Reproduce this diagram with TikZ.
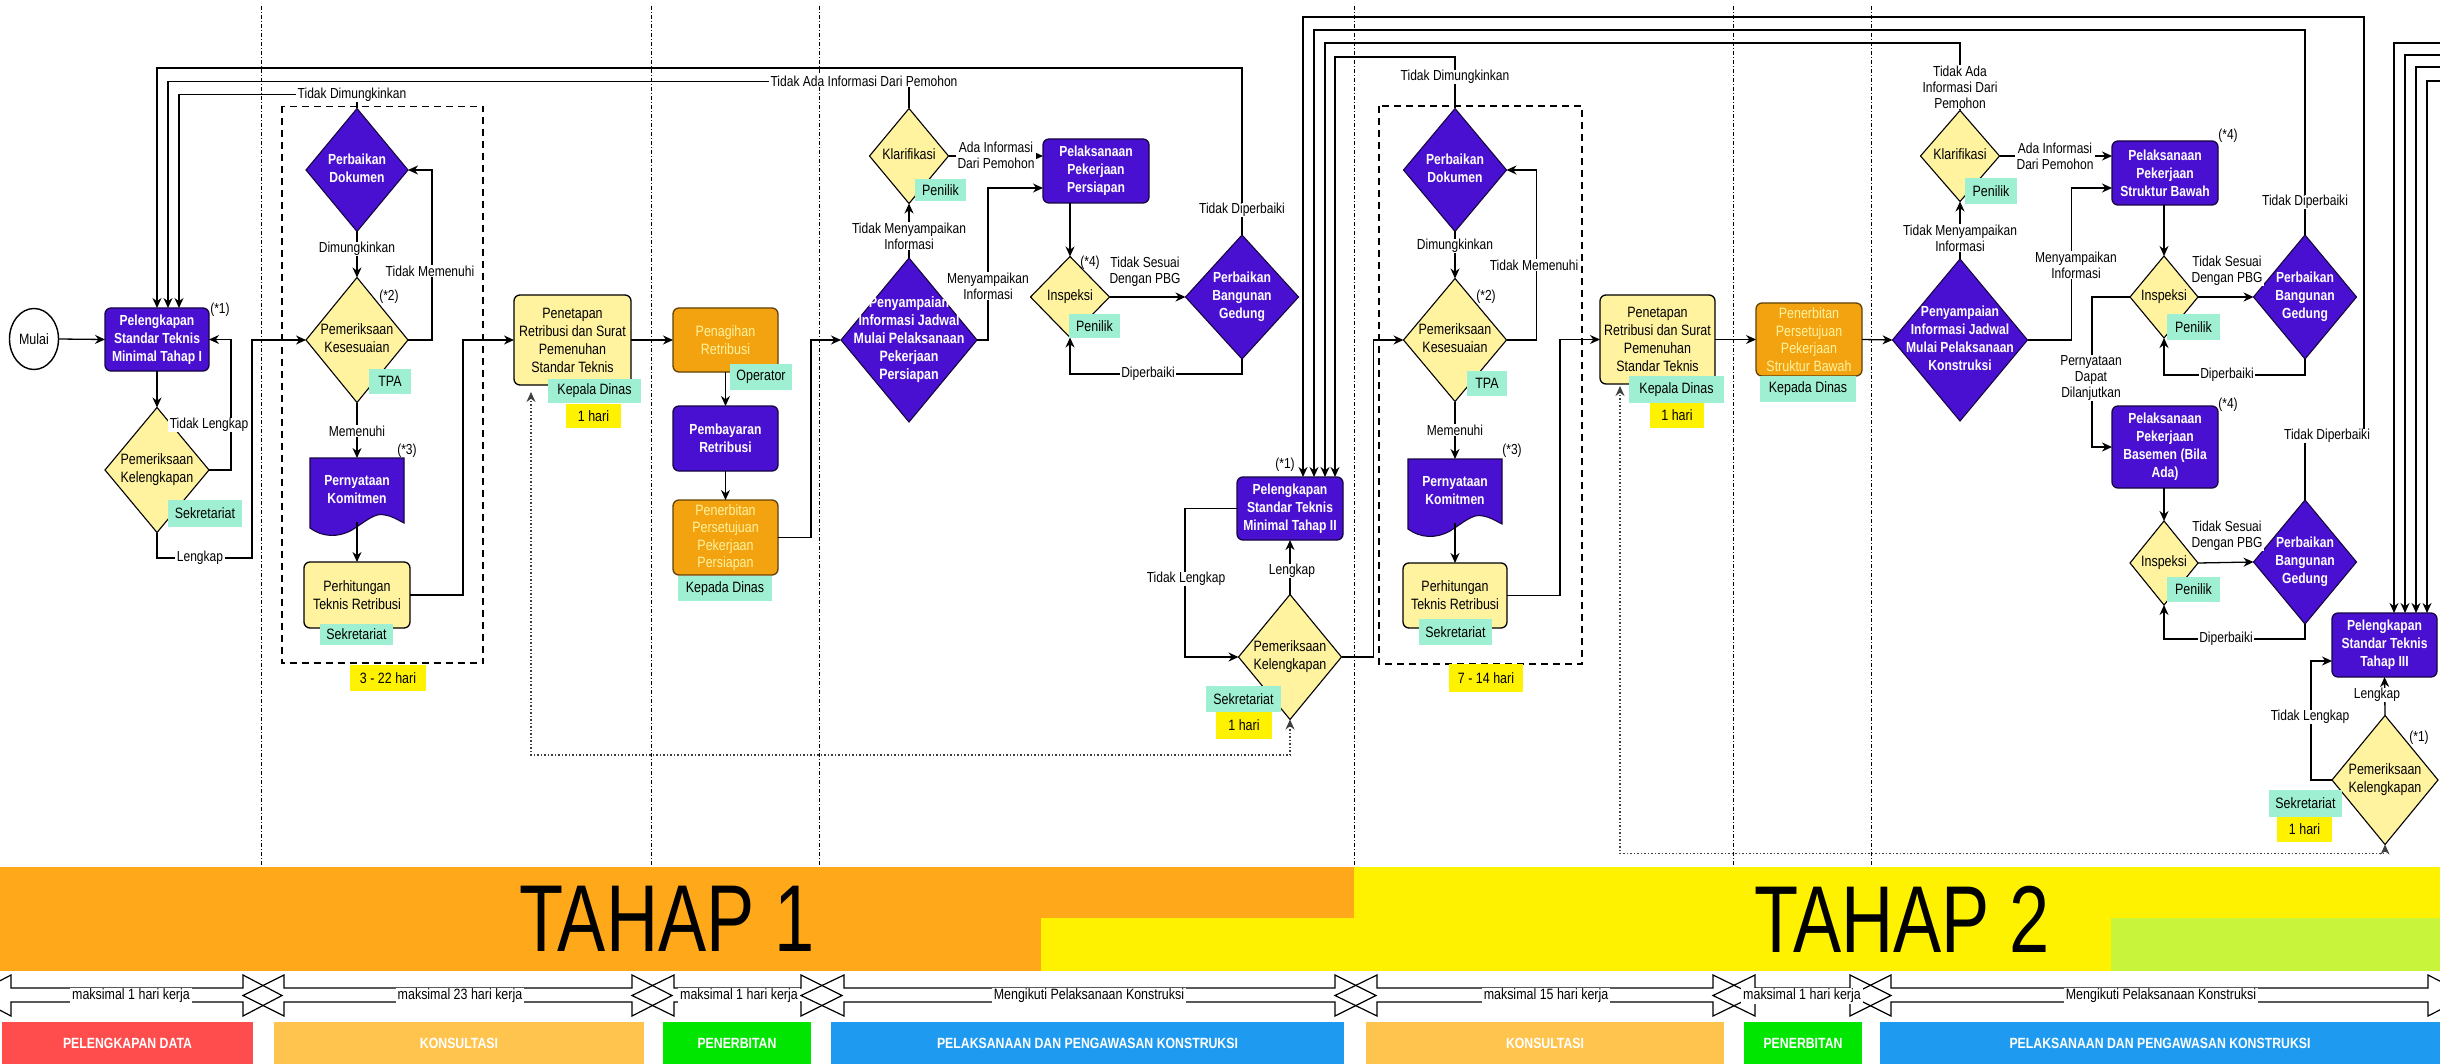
\documentclass[tikz,border=0pt]{standalone}
\usepackage{fontspec}
\setmainfont[FakeStretch=0.83]{Liberation Sans}
\newfontfamily\tahapfont[FakeStretch=0.76]{Liberation Sans}
\usetikzlibrary{shapes.geometric,arrows.meta,calc}
\definecolor{pur}{HTML}{4A10D2}
\definecolor{pale}{HTML}{FFF3A0}
\definecolor{org}{HTML}{F2A30F}
\definecolor{teal2}{HTML}{9FF0D2}
\definecolor{barorg}{HTML}{FFA91A}
\definecolor{limeg}{HTML}{C8F53C}
\definecolor{barred}{HTML}{FF4C4C}
\definecolor{barkon}{HTML}{FFC44D}
\definecolor{bargrn}{HTML}{00E600}
\definecolor{barblu}{HTML}{1E9BF0}
\newcommand\dt[1]{\makebox[0pt][c]{\raisebox{-0.25em}[0pt][0pt]{\begin{tabular}{@{}c@{}}#1\end{tabular}}}}
\tikzset{
 every node/.style={font=\fontsize{15}{18}\selectfont,align=center,inner sep=0pt,outer sep=0pt},
 wtxt/.style={text=white,font=\fontsize{14.6}{18}\selectfont\bfseries},
 bxp/.style={wtxt,rectangle,rounded corners=6pt,fill=pur,draw=black!70!pur,line width=1.3pt},
 bxy/.style={rectangle,rounded corners=6pt,fill=pale,draw=black,line width=1.3pt},
 bxo/.style={rectangle,rounded corners=6pt,fill=org,draw=black!60!org,line width=1.3pt,text=pale,font=\fontsize{15}{17.5}\selectfont},
 dmy/.style={diamond,fill=pale,draw=black,line width=1.1pt},
 dmp/.style={diamond,wtxt,fill=pur,draw=black!70!pur,line width=1.1pt},
 tl/.style={fill=teal2,minimum height=25pt},
 yl/.style={fill=yellow,minimum height=25pt},
 lb/.style={fill=white,inner xsep=1.5pt,inner ysep=0.5pt,font=\fontsize{14.5}{16}\selectfont},
 nt/.style={font=\fontsize{14.5}{16}\selectfont},
 ln/.style={draw=black,line width=1.3pt},
 arr/.style={ln,-{Stealth[length=10pt,width=9pt]}},
 dot/.style={draw=black!75,line width=1.2pt,dash pattern=on 1.5pt off 2pt,{Stealth[length=10pt,width=9pt]}-{Stealth[length=10pt,width=9pt]}},
 dbox/.style={draw=black,line width=1.2pt,dash pattern=on 7pt off 5pt},
 vl/.style={draw=black,line width=1pt,dash pattern=on 4pt off 2pt on 1pt off 2pt},
 band/.style={draw=black,line width=1.2pt},
 bar/.style={minimum height=42pt,text=white,font=\fontsize{14.8}{16}\selectfont\bfseries},
 blb/.style={fill=white,inner xsep=2pt,inner ysep=1pt,font=\fontsize{15}{17}\selectfont},
 tah/.style={font=\fontsize{95}{95}\selectfont\tahapfont}
}
\newcommand\bandarrow[4]{\draw[band] (#1,995.5)--(#2,975)--(#2,988)--(#3,988)--(#3,975)--(#4,995.5)--(#3,1016)--(#3,1002)--(#2,1002)--(#2,1016)--cycle;}
\newcommand\docshape[2]{\filldraw[fill=pur,draw=black!70!pur,line width=1.1pt,shift={(#1,#2)}] (0,0)--(94,0)--(94,65) .. controls (88,62) and (82,58) .. (75,57) .. controls (65,54) and (55,64) .. (42,72) .. controls (28,80) and (12,79) .. (0,70) -- cycle;}
\begin{document}
\begin{tikzpicture}[x=1pt,y=-1pt]
\useasboundingbox (0,0) rectangle (2440,1064);
\clip (0,0) rectangle (2440,1064);
\fill[white] (0,0) rectangle (2440,1064);
% phase separators
\foreach \vx in {261,651,819,1354,1733,1871}{\draw[vl] (\vx,6) -- (\vx,867);}
% bars
\fill[barorg] (0,867) rectangle (1354,918);
\fill[barorg] (0,918) rectangle (1041,971);
\fill[yellow] (1354,867) rectangle (2440,918);
\fill[yellow] (1041,918) rectangle (2111,971);
\fill[limeg] (2111,918) rectangle (2440,971);
\node[tah] (t1) at (667,919) {TAHAP 1};
\node[tah] (t2) at (1902,919) {TAHAP 2};
% dashed frames
\draw[dbox] (282,106.5) rectangle (483,663);
\draw[dbox] (1379,106) rectangle (1582,664);
% document shapes
\docshape{310}{458}
\docshape{1408}{459}
% nodes: stage 1
\node[draw=black,line width=1.4pt,ellipse,fill=white,minimum width=49pt,minimum height=61pt] (mulai) at (34,339) {Mulai};
\node[bxp,minimum width=104pt,minimum height=63pt] (p1) at (157,339.5) {Pelengkapan\\Standar Teknis\\Minimal Tahap I};
\node[dmy,minimum width=104pt,minimum height=125pt] (k1) at (157,470) {\dt{Pemeriksaan\\Kelengkapan}};
\node[dmp,minimum width=102pt,minimum height=123pt] (pd) at (357,170) {\dt{Perbaikan\\Dokumen}};
\node[dmy,minimum width=102pt,minimum height=125pt] (k2) at (357,340) {\dt{Pemeriksaan\\Kesesuaian}};
\node[wtxt,minimum width=94pt,minimum height=64pt] (d1) at (357,490) {Pernyataan\\Komitmen};
\node[bxy,minimum width=106pt,minimum height=66pt] (ph) at (357,595) {Perhitungan\\Teknis Retribusi};
\node[bxy,minimum width=117pt,minimum height=90pt] (pn1) at (572.5,340) {Penetapan\\Retribusi dan Surat\\Pemenuhan\\Standar Teknis};
\node[bxo,minimum width=105pt,minimum height=64pt] (pg) at (725.5,340) {Penagihan\\Retribusi};
\node[bxp,minimum width=105pt,minimum height=65pt] (pb) at (725.5,438.5) {Pembayaran\\Retribusi};
\node[bxo,minimum width=105pt,minimum height=75pt] (ts) at (725.5,537.5) {Penerbitan\\Persetujuan\\Pekerjaan\\Persiapan};
\node[dmp,font=\fontsize{15}{18}\selectfont\bfseries,minimum width=136pt,minimum height=164pt] (py) at (909,340) {\dt{Penyampaian\\Informasi Jadwal\\Mulai Pelaksanaan\\Pekerjaan\\Persiapan}};
\node[dmy,minimum width=79pt,minimum height=95pt] (kl) at (909,156) {\dt{Klarifikasi}};
\node[bxp,minimum width=106pt,minimum height=64pt] (pp) at (1096,171) {Pelaksanaan\\Pekerjaan\\Persiapan};
\node[dmy,minimum width=79pt,minimum height=81pt] (in1) at (1070,297) {\dt{Inspeksi}};
\node[dmp,minimum width=113pt,minimum height=124pt] (gd1) at (1242,297) {\dt{Perbaikan\\Bangunan\\Gedung}};
% nodes: stage 2
\node[bxp,minimum width=106pt,minimum height=63pt] (p2) at (1290,508.5) {Pelengkapan\\Standar Teknis\\Minimal Tahap II};
\node[dmy,minimum width=103pt,minimum height=125pt] (k3) at (1290,657) {\dt{Pemeriksaan\\Kelengkapan}};
\node[dmp,minimum width=103pt,minimum height=123pt] (pd2) at (1455,170) {\dt{Perbaikan\\Dokumen}};
\node[dmy,minimum width=103pt,minimum height=123pt] (k4) at (1455,340) {\dt{Pemeriksaan\\Kesesuaian}};
\node[wtxt,minimum width=94pt,minimum height=64pt] (d2) at (1455,491) {Pernyataan\\Komitmen};
\node[bxy,minimum width=104pt,minimum height=65pt] (ph2) at (1455,595.5) {Perhitungan\\Teknis Retribusi};
\node[bxy,minimum width=115pt,minimum height=89pt] (pn2) at (1657.5,339.5) {Penetapan\\Retribusi dan Surat\\Pemenuhan\\Standar Teknis};
\node[bxo,minimum width=106pt,minimum height=73pt] (ts2) at (1809,339.5) {Penerbitan\\Persetujuan\\Pekerjaan\\Struktur Bawah};
\node[dmp,minimum width=135pt,minimum height=162pt] (py2) at (1960,340) {\dt{Penyampaian\\Informasi Jadwal\\Mulai Pelaksanaan\\Konstruksi}};
\node[dmy,minimum width=79pt,minimum height=91pt] (kl2) at (1960,156) {\dt{Klarifikasi}};
\node[bxp,minimum width=106pt,minimum height=64pt] (ps) at (2165,173) {Pelaksanaan\\Pekerjaan\\Struktur Bawah};
\node[dmy,minimum width=68pt,minimum height=82pt] (in2) at (2164,297) {\dt{Inspeksi}};
\node[dmp,minimum width=103pt,minimum height=124pt] (gd2) at (2305,297) {\dt{Perbaikan\\Bangunan\\Gedung}};
\node[bxp,minimum width=106pt,minimum height=82pt] (pb2) at (2165,447) {Pelaksanaan\\Pekerjaan\\Basemen (Bila\\Ada)};
\node[dmy,minimum width=68pt,minimum height=84pt] (in3) at (2164,563) {\dt{Inspeksi}};
\node[dmp,minimum width=103pt,minimum height=124pt] (gd3) at (2305,562) {\dt{Perbaikan\\Bangunan\\Gedung}};
\node[bxp,minimum width=105pt,minimum height=64pt] (p3) at (2384.5,645) {Pelengkapan\\Standar Teknis\\Tahap III};
\node[dmy,minimum width=106pt,minimum height=129pt] (k5) at (2385,780) {\dt{Pemeriksaan\\Kelengkapan}};
% free ends
\coordinate (e1) at (2445,43);
\coordinate (e2) at (2445,55);
\coordinate (e3) at (2445,67);
\coordinate (e4) at (2445,81);
% connectors stage 1
\draw[arr] (mulai.east) -- (p1.west);
\draw[arr] (p1.south) -- (k1.north);
\draw[arr] (k1.east) -- ++(22,0) |- (p1.east);
\draw[arr] (k1.south) -- ++(0,25.5) -- ++(95,0) |- (k2.west);
\draw[arr] (k2.east) -- ++(24,0) |- (pd.east);
\draw[arr] (pd.south) -- (k2.north);
\draw[arr] (k2.south) -- (d1.north);
\draw[arr] (d1.south) -- (ph.north);
\draw[arr] (ph.east) -- ++(53,0) |- (pn1.west);
\draw[arr] (pn1.east) -- (pg.west);
\draw[arr] (pg.south) -- (pb.north);
\draw[arr] (pb.south) -- (ts.north);
\draw[arr] (ts.east) -- ++(33,0) |- (py.west);
\draw[arr] (py.north) -- (kl.south);
\draw[arr] (kl.north) -- ++(0,-27) -| ([xshift=11pt]p1.north);
\draw[arr] (pd.north) -- ++(0,-14) -| ([xshift=22pt]p1.north);
\draw[arr] (gd1.north) -- ++(0,-167) -| (p1.north);
\draw[arr] (kl.east) -- (kl.east -| pp.west);
\draw[arr] (py.east) -- ++(11,0) |- ([yshift=-17pt]pp.west);
\draw[arr] (in1.north |- pp.south) -- (in1.north);
\draw[arr] (in1.east) -- (gd1.west);
\draw[arr] (gd1.south) -- ++(0,15) -| (in1.south);
% connectors stage 2
\draw[arr] (k3.north) -- (p2.south);
\draw[arr] (p2.west) -- ++(-52,0) |- (k3.west);
\draw[dot] (k3.south) -- ++(0,35.5) -| ([xshift=-41.5pt,yshift=-7pt]pn1.south);
\draw[arr] (k3.east) -- ++(32,0) |- (k4.west);
\draw[arr] (k4.east) -- ++(30,0) |- (pd2.east);
\draw[arr] (pd2.south) -- (k4.north);
\draw[arr] (k4.south) -- (d2.north);
\draw[arr] (d2.south) -- (ph2.north);
\draw[arr] (ph2.east) -- ++(53,0) |- (pn2.west);
\draw[arr] (pn2.east) -- (ts2.west);
\draw[arr] (ts2.east) -- (py2.west);
\draw[arr] (py2.north) -- (kl2.south);
\draw[arr] (gd3.north) -- ++(0,-64) -- ++(59,0) -- ++(0,-419) -| ([xshift=13pt]p2.north);
\draw[arr] (gd2.north) -- ++(0,-205) -| ([xshift=24pt]p2.north);
\draw[arr] (kl2.north) -- ++(0,-67.5) -| ([xshift=35pt]p2.north);
\draw[arr] (pd2.north) -- ++(0,-51.5) -| ([xshift=45pt]p2.north);
\draw[arr] (kl2.east) -- (kl2.east -| ps.west);
\draw[arr] (py2.east) -- ++(44,0) |- ([yshift=-15pt]ps.west);
\draw[arr] (in2.north |- ps.south) -- (in2.north);
\draw[arr] (in2.east) -- (gd2.west);
\draw[arr] (gd2.south) -- ++(0,16) -| (in2.south);
\draw[arr] (in2.west) -- ++(-38,0) |- (pb2.west);
\draw[arr] (in3.north |- pb2.south) -- (in3.north);
\draw[arr] (in3.east) -- (gd3.west);
\draw[arr] (gd3.south) -- ++(0,15) -| (in3.south);
\draw[arr] (k5.north) -- (p3.south);
\draw[arr] (k5.west) -- ++(-21,0) |- ([yshift=-16pt]p3.west);
\draw[dot] (k5.south) -- ++(0,9) -| ([xshift=-37.5pt,yshift=-2pt]pn2.south);
\draw[arr] (e1) -| ([xshift=9.5pt]p3.north);
\draw[arr] (e2) -| ([xshift=20.5pt]p3.north);
\draw[arr] (e3) -| ([xshift=31.5pt]p3.north);
\draw[arr] (e4) -| ([xshift=42.5pt]p3.north);
% connector labels
\node[lb] (l1) at (209,425) {Tidak Lengkap};
\node[lb] (l2) at (200,558) {Lengkap};
\node[lb] (l3) at (352,95) {Tidak Dimungkinkan};
\node[lb] (l4) at (357,249) {Dimungkinkan};
\node[lb] (l5) at (430,271) {Tidak Memenuhi};
\node[lb] (l6) at (357,431) {Memenuhi};
\node[lb] (l7) at (864,81) {Tidak Ada Informasi Dari Pemohon};
\node[lb] (l8) at (909,236) {Tidak Menyampaikan\\Informasi};
\node[lb] (l9) at (996,155) {Ada Informasi\\Dari Pemohon};
\node[lb] (l10) at (988,286) {Menyampaikan\\Informasi};
\node[lb] (l11) at (1145,272) {Tidak Sesuai\\Dengan PBG};
\node[lb] (l12) at (1148,374) {Diperbaiki};
\node[lb] (l13) at (1242,210) {Tidak Diperbaiki};
\node[lb] (l14) at (1292,571) {Lengkap};
\node[lb] (l15) at (1186,579) {Tidak Lengkap};
\node[lb] (l16) at (1455,77) {Tidak Dimungkinkan};
\node[lb] (l17) at (1455,246) {Dimungkinkan};
\node[lb] (l18) at (1534,265) {Tidak Memenuhi};
\node[lb] (l19) at (1455,430) {Memenuhi};
\node[lb] (l20) at (1960,87) {Tidak Ada\\Informasi Dari\\Pemohon};
\node[lb] (l21) at (1960,238) {Tidak Menyampaikan\\Informasi};
\node[lb] (l22) at (2055,156) {Ada Informasi\\Dari Pemohon};
\node[lb] (l23) at (2076,265) {Menyampaikan\\Informasi};
\node[lb] (l24) at (2227,271) {Tidak Sesuai\\Dengan PBG};
\node[lb] (l25) at (2227,375) {Diperbaiki};
\node[lb] (l26) at (2305,202) {Tidak Diperbaiki};
\node[lb] (l27) at (2091,378) {Pernyataan\\Dapat\\Dilanjutkan};
\node[lb] (l28) at (2227,536) {Tidak Sesuai\\Dengan PBG};
\node[lb] (l29) at (2226,639) {Diperbaiki};
\node[lb] (l30) at (2327,436) {Tidak Diperbaiki};
\node[lb] (l31) at (2377,695) {Lengkap};
\node[lb] (l32) at (2310,717) {Tidak Lengkap};
% footnote marks
\node[nt] (m1) at (220,310) {(*1)};
\node[nt] (m2) at (389,297) {(*2)};
\node[nt] (m3) at (407,451) {(*3)};
\node[nt] (m4) at (1090,263) {(*4)};
\node[nt] (m5) at (1285,465) {(*1)};
\node[nt] (m6) at (1486,297) {(*2)};
\node[nt] (m7) at (1512,451) {(*3)};
\node[nt] (m8) at (2228,136) {(*4)};
\node[nt] (m9) at (2228,405) {(*4)};
\node[nt] (m10) at (2419,738) {(*1)};
% role tags
\node[tl,minimum width=74pt,minimum height=27pt] (r1) at (205,513.5) {Sekretariat};
\node[tl,minimum width=42pt] (r2) at (390,381.5) {TPA};
\node[tl,minimum width=73pt,minimum height=21pt] (r3) at (356.5,634.5) {Sekretariat};
\node[tl,minimum width=93pt,minimum height=24pt] (r4) at (594.5,391) {Kepala Dinas};
\node[tl,minimum width=62pt,minimum height=26pt] (r5) at (761,377) {Operator};
\node[tl,minimum width=94pt] (r6) at (725,588.5) {Kepada Dinas};
\node[tl,minimum width=51pt,minimum height=22pt] (r7) at (940.5,190) {Penilik};
\node[tl,minimum width=51pt,minimum height=24pt] (r8) at (1094.5,326) {Penilik};
\node[tl,minimum width=75pt,minimum height=26pt] (r9) at (1243.5,699) {Sekretariat};
\node[tl,minimum width=40pt] (r10) at (1487,383.5) {TPA};
\node[tl,minimum width=73pt,minimum height=26pt] (r11) at (1455.5,632) {Sekretariat};
\node[tl,minimum width=95pt,minimum height=27pt] (r12) at (1676.5,389.5) {Kepala Dinas};
\node[tl,minimum width=96pt,minimum height=26pt] (r13) at (1808,389) {Kepada Dinas};
\node[tl,minimum width=52pt,minimum height=26pt] (r14) at (1991,191) {Penilik};
\node[tl,minimum width=53pt,minimum height=26pt] (r15) at (2193.5,327) {Penilik};
\node[tl,minimum width=53pt] (r16) at (2193.5,589.5) {Penilik};
\node[tl,minimum width=73pt,minimum height=27pt] (r17) at (2305.5,803.5) {Sekretariat};
% durations
\node[yl,minimum width=76pt,minimum height=26pt] (h1) at (388,678) {3 - 22 hari};
\node[yl,minimum width=55pt,minimum height=24pt] (h2) at (593.5,416) {1 hari};
\node[yl,minimum width=56pt,minimum height=27pt] (h3) at (1244,725.5) {1 hari};
\node[yl,minimum width=74pt,minimum height=28pt] (h4) at (1486,678) {7 - 14 hari};
\node[yl,minimum width=54pt] (h5) at (1677,415.5) {1 hari};
\node[yl,minimum width=55pt] (h6) at (2304.5,829.5) {1 hari};
% band arrows
\bandarrow{-28}{11}{243}{282}
\bandarrow{243}{284}{632}{672}
\bandarrow{632}{674}{801}{842}
\bandarrow{801}{844}{1335}{1376}
\bandarrow{1335}{1377}{1713}{1755}
\bandarrow{1713}{1755}{1850}{1891}
\bandarrow{1850}{1891}{2428}{2468}
\node[blb] (b1) at (131,996) {maksimal 1 hari kerja};
\node[blb] (b2) at (460,996) {maksimal 23 hari kerja};
\node[blb] (b3) at (739,996) {maksimal 1 hari kerja};
\node[blb] (b4) at (1089,996) {Mengikuti Pelaksanaan Konstruksi};
\node[blb] (b5) at (1546,996) {maksimal 15 hari kerja};
\node[blb] (b6) at (1802,996) {maksimal 1 hari kerja};
\node[blb] (b7) at (2161,996) {Mengikuti Pelaksanaan Konstruksi};
% phase bars
\node[bar,fill=barred,minimum width=251pt] (s1) at (127.5,1043) {PELENGKAPAN DATA};
\node[bar,fill=barkon,minimum width=370pt] (s2) at (459,1043) {KONSULTASI};
\node[bar,fill=bargrn,minimum width=148pt] (s3) at (737,1043) {PENERBITAN};
\node[bar,fill=barblu,minimum width=513pt] (s4) at (1087.5,1043) {PELAKSANAAN DAN PENGAWASAN KONSTRUKSI};
\node[bar,fill=barkon,minimum width=358pt] (s5) at (1545,1043) {KONSULTASI};
\node[bar,fill=bargrn,minimum width=118pt] (s6) at (1803,1043) {PENERBITAN};
\node[bar,fill=barblu,minimum width=560pt] (s7) at (2160,1043) {PELAKSANAAN DAN PENGAWASAN KONSTRUKSI};
\end{tikzpicture}
\end{document}
